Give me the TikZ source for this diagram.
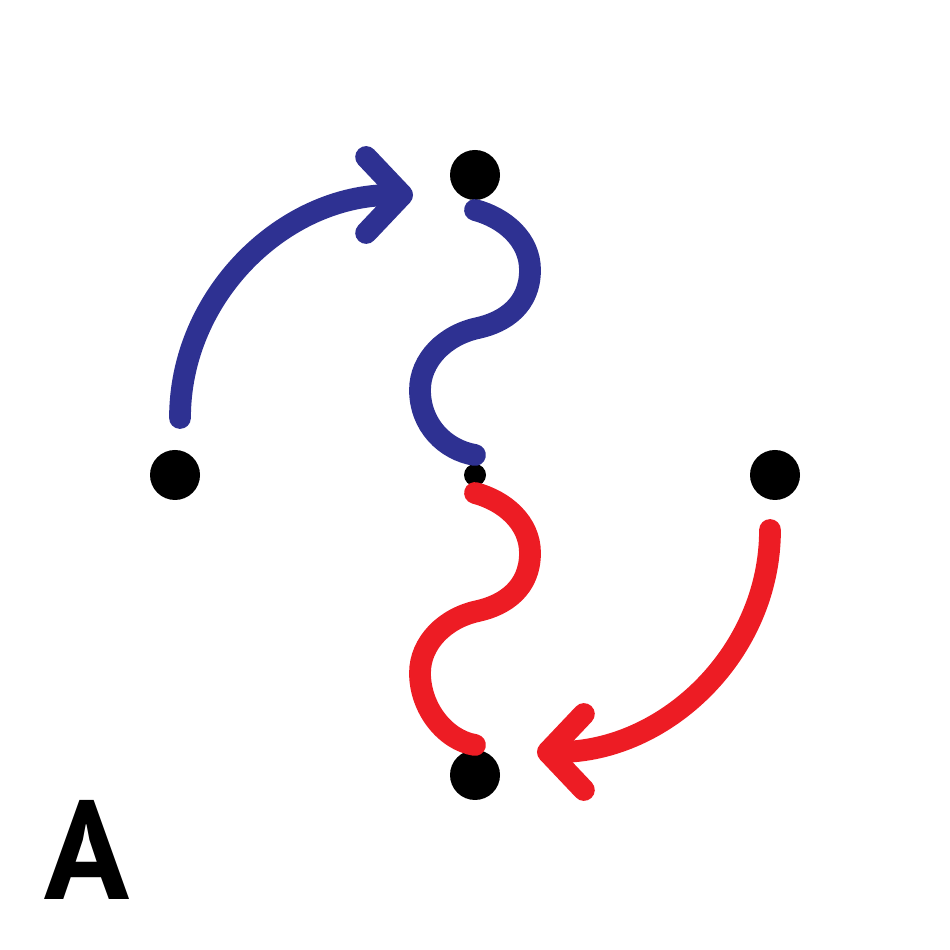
\documentclass[tikz,border=0pt]{standalone}
\usepackage{fontspec}
\newfontfamily\labelfont{PT Sans}
\usetikzlibrary{arrows.meta}
\definecolor{sblue}{RGB}{46,49,146}
\definecolor{sred}{RGB}{237,28,36}
\tikzset{
  dot/.style={circle,fill=black,inner sep=0pt,minimum size=5mm},
  smalldot/.style={circle,fill=black,inner sep=0pt,minimum size=2.2mm},
  swing/.style={line width=6.2pt,line cap=round,-{Straight Barb[length=3.6mm,width=7.6mm,round]}},
  wave/.style={line width=6.2pt,line cap=round}
}

\begin{document}
\begin{tikzpicture}

\useasboundingbox (0,0) rectangle (9.5,9.5);

\node[dot] (top) at (4.75,7.75) {};
\node[dot] (left) at (1.75,4.75) {};
\node[dot] (right) at (7.75,4.75) {};
\node[dot] (bottom) at (4.75,1.75) {};
\node[smalldot] (mid) at (4.75,4.75) {};

\coordinate (bstart) at (1.80,5.32); %blueの始点
\coordinate (rstart) at (7.70,4.20); %redの始点

\draw[swing,sblue] (bstart) arc[start angle=180,end angle=90,x radius=2.33,y radius=2.23];
\draw[swing,sred] (rstart) arc[start angle=0,end angle=-90,x radius=2.33,y radius=2.22];

% Sカーブ
\draw[wave,sblue] (4.75,7.40) .. controls (5.05,7.32) and (5.30,7.10) .. (5.30,6.80)
  .. controls (5.30,6.45) and (5.05,6.28) .. (4.78,6.22)
  .. controls (4.45,6.15) and (4.20,5.90) .. (4.20,5.60)
  .. controls (4.20,5.25) and (4.45,5.00) .. (4.75,4.95);
\draw[wave,sred] (4.75,4.57) .. controls (5.05,4.49) and (5.30,4.27) .. (5.30,3.97)
  .. controls (5.30,3.62) and (5.05,3.45) .. (4.78,3.39)
  .. controls (4.45,3.32) and (4.20,3.07) .. (4.20,2.77)
  .. controls (4.20,2.42) and (4.45,2.10) .. (4.75,2.05);

\node[font=\labelfont\bfseries\fontsize{40}{40}\selectfont] (label) at (0.87,1.0) {A};

\end{tikzpicture}
\end{document}
